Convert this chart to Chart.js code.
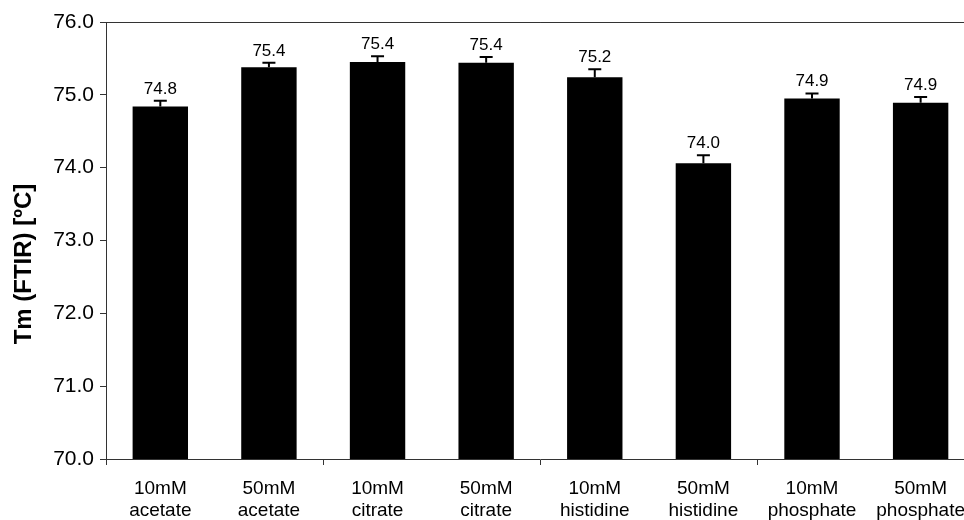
<!DOCTYPE html>
<html>
<head>
<meta charset="utf-8">
<script src="https://cdn.jsdelivr.net/npm/chart.js@4"></script>
<style>
  html, body { margin: 0; padding: 0; background: #fff; overflow: hidden; }
  #wrap { width: 977px; height: 520px; position: relative; }
</style>
</head>
<body>
<div id="wrap"><canvas id="tmChart"></canvas></div>
<script>
// data
const categories = [
    ["10mM", "acetate"], ["50mM", "acetate"],
    ["10mM", "citrate"], ["50mM", "citrate"],
    ["10mM", "histidine"], ["50mM", "histidine"],
    ["10mM", "phosphate"], ["50mM", "phosphate"]
];
const tmValues = [74.84, 75.38, 75.45, 75.44, 75.24, 74.06, 74.95, 74.89];
const tmErrors = [0.08, 0.06, 0.08, 0.08, 0.11, 0.11, 0.07, 0.08];
const valueLabels = ["74.8", "75.4", "75.4", "75.4", "75.2", "74.0", "74.9", "74.9"];
const yTitle = "Tm (FTIR) [ºC]";

const FONT = "'Liberation Sans', Arial, sans-serif";
const AXIS = "#333";

// ---------------------------------------------
// error bars + value labels
// ---------------------------------------------
const errorBarPlugin = {
    id: "errorBars",
    afterDatasetsDraw(chart) {
        const ctx = chart.ctx;
        const meta = chart.getDatasetMeta(0);
        const yScale = chart.scales.y;
        ctx.save();
        meta.data.forEach((bar, i) => {
            const yTop = yScale.getPixelForValue(tmValues[i] + tmErrors[i]);
            const yVal = yScale.getPixelForValue(tmValues[i]);
            ctx.strokeStyle = "#000";
            ctx.lineWidth = 2;
            ctx.beginPath();
            ctx.moveTo(bar.x, yVal);
            ctx.lineTo(bar.x, yTop);
            ctx.moveTo(bar.x - 6.5, yTop);
            ctx.lineTo(bar.x + 6.5, yTop);
            ctx.stroke();

            ctx.fillStyle = "#000";
            ctx.font = "17px " + FONT;
            ctx.textAlign = "center";
            ctx.textBaseline = "alphabetic";
            ctx.fillText(valueLabels[i], bar.x, yTop - 7);
        });
        ctx.restore();
    }
};

// y axis title, drawn a bit lower than chart.js would centre it
const yTitlePlugin = {
    id: "yTitle",
    afterDraw(chart) {
        const ctx = chart.ctx;
        ctx.save();
        ctx.translate(24, 264);
        ctx.rotate(-Math.PI / 2);
        ctx.font = "bold 24px " + FONT;
        ctx.fillStyle = "#000";
        ctx.textAlign = "center";
        ctx.textBaseline = "middle";
        ctx.fillText(yTitle, 0, 0);
        ctx.restore();
    }
};

new Chart(document.getElementById("tmChart"), {
    type: "bar",
    data: {
        labels: categories,
        datasets: [{
            data: tmValues,
            backgroundColor: "#000",
            borderWidth: 0,
            categoryPercentage: 1.0,
            barPercentage: 0.51
        }]
    },
    options: {
        responsive: true,
        maintainAspectRatio: false,
        animation: false,
        layout: { padding: { top: 22, left: 0, right: 0, bottom: 0 } },
        plugins: {
            legend: { display: false },
            tooltip: { enabled: false }
        },
        scales: {
            x: {
                offset: true,
                grid: {
                    offset: true,
                    drawOnChartArea: false,
                    tickLength: 6,
                    tickColor: c => (c.index % 2 === 0 ? AXIS : "rgba(0,0,0,0)")
                },
                border: { color: AXIS, width: 1 },
                ticks: {
                    color: "#000",
                    font: { family: FONT, size: 19, lineHeight: 1.2 },
                    maxRotation: 0,
                    autoSkip: false,
                    padding: 12
                },
                afterFit(scale) { scale.height = 61; }
            },
            y: {
                min: 70,
                max: 76,
                grid: {
                    drawOnChartArea: true,
                    tickLength: 6,
                    tickColor: AXIS,
                    color: c => (c.tick && c.tick.value === 76 ? AXIS : "rgba(0,0,0,0)")
                },
                border: { color: AXIS, width: 1 },
                ticks: {
                    stepSize: 1,
                    color: "#000",
                    padding: 6,
                    font: { family: FONT, size: 21 },
                    callback: v => v.toFixed(1)
                },
                afterFit(scale) { scale.width = 106; }
            }
        }
    },
    plugins: [errorBarPlugin, yTitlePlugin]
});
</script>
</body>
</html>
